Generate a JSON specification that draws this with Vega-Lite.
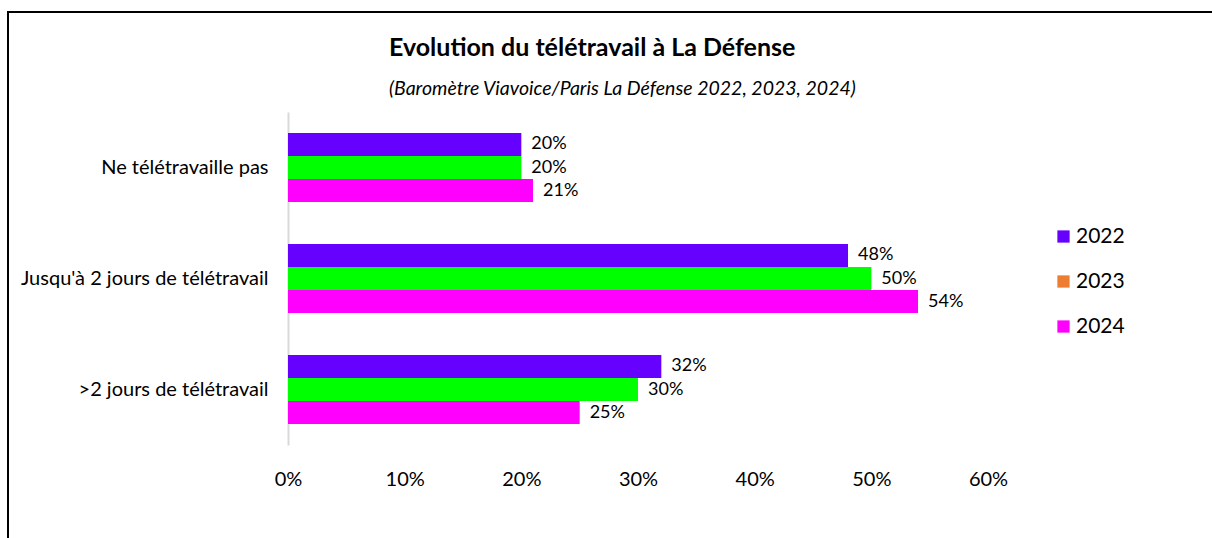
{
  "$schema": "https://vega.github.io/schema/vega-lite/v6.json",
  "autosize": "none",
  "padding": {"left": 8, "top": 12, "right": 0, "bottom": 0},
  "width": 1220,
  "height": 540,
  "background": "white",
  "title": {
    "text": "Evolution du télétravail à La Défense",
    "subtitle": "(Baromètre Viavoice/Paris La Défense 2022, 2023, 2024)",
    "anchor": "start",
    "frame": "group",
    "offset": -86,
    "dx": 381,
    "font": "Lato",
    "fontSize": 25,
    "fontWeight": "bold",
    "color": "#000000",
    "subtitleFont": "Lato",
    "subtitleFontSize": 19.5,
    "subtitleFontStyle": "italic",
    "subtitleColor": "#000000",
    "subtitlePadding": 19
  },
  "config": {
    "view": {"stroke": "#000000", "strokeWidth": 2},
    "font": "Lato"
  },
  "data": {
    "values": [
      {"cat": "Ne télétravaille pas", "year": "2022", "v": 0.20},
      {"cat": "Ne télétravaille pas", "year": "2023", "v": 0.20},
      {"cat": "Ne télétravaille pas", "year": "2024", "v": 0.21},
      {"cat": "Jusqu'à 2 jours de télétravail", "year": "2022", "v": 0.48},
      {"cat": "Jusqu'à 2 jours de télétravail", "year": "2023", "v": 0.50},
      {"cat": "Jusqu'à 2 jours de télétravail", "year": "2024", "v": 0.54},
      {"cat": ">2 jours de télétravail", "year": "2022", "v": 0.32},
      {"cat": ">2 jours de télétravail", "year": "2023", "v": 0.30},
      {"cat": ">2 jours de télétravail", "year": "2024", "v": 0.25}
    ]
  },
  "encoding": {
    "y": {
      "field": "cat",
      "type": "nominal",
      "sort": null,
      "title": null,
      "scale": {"range": [100, 433], "paddingInner": 0.378, "paddingOuter": 0.189},
      "axis": {
        "orient": "left",
        "offset": -280,
        "domainColor": "#d9d9d9",
        "domainWidth": 2,
        "ticks": false,
        "labelPadding": 20,
        "labelLimit": 400,
        "labelFont": "Lato",
        "labelFontSize": 20,
        "labelColor": "#000000"
      }
    },
    "x": {
      "field": "v",
      "type": "quantitative",
      "title": null,
      "scale": {"domain": [0, 0.6], "range": [280, 980], "nice": false, "zero": true},
      "axis": {
        "orient": "bottom",
        "offset": -83,
        "format": ".0%",
        "values": [0, 0.1, 0.2, 0.3, 0.4, 0.5, 0.6],
        "grid": false,
        "domain": false,
        "ticks": false,
        "labelFlush": false,
        "labelPadding": 0,
        "labelFont": "Lato",
        "labelFontSize": 20,
        "labelColor": "#000000"
      }
    },
    "yOffset": {"field": "year", "type": "nominal", "scale": {"paddingInner": 0, "paddingOuter": 0}}
  },
  "layer": [
    {
      "mark": {"type": "bar"},
      "encoding": {
        "color": {
          "condition": {"test": "datum.year === '2023'", "value": "#00FF00"},
          "field": "year",
          "type": "nominal",
          "scale": {"domain": ["2022", "2023", "2024"], "range": ["#6600FF", "#ED7D31", "#FF00FF"]},
          "legend": {
            "title": null,
            "orient": "none",
            "legendX": 1045,
            "legendY": 214,
            "symbolType": "square",
            "symbolSize": 150,
            "symbolStrokeWidth": 0,
            "labelFont": "Lato",
            "labelFontSize": 21,
            "labelColor": "#000000",
            "labelOffset": 2,
            "rowPadding": 23
          }
        }
      }
    },
    {
      "mark": {"type": "text", "align": "left", "baseline": "middle", "dx": 10, "fontSize": 18, "font": "Lato", "color": "#000000"},
      "encoding": {
        "text": {"field": "v", "type": "quantitative", "format": ".0%"}
      }
    }
  ]
}
